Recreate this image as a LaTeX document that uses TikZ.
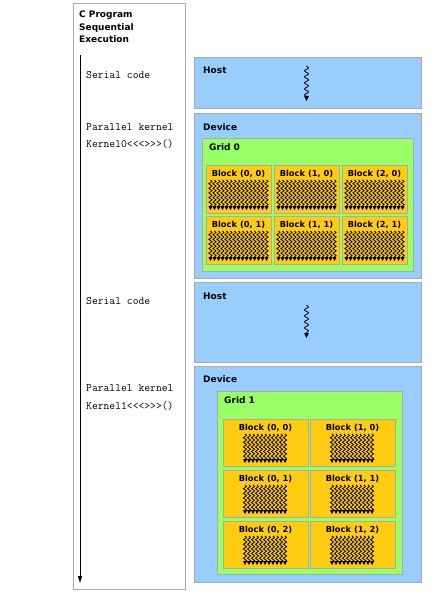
\documentclass[tikz,border=0pt]{standalone}
\usepackage{fontspec}
\newfontfamily\vsans{DejaVu Sans}
\usetikzlibrary{decorations.pathmorphing,arrows.meta}
\definecolor{hostblue}{RGB}{153,204,255}
\definecolor{gridgreen}{RGB}{153,255,102}
\definecolor{blockgold}{RGB}{255,204,17}
\definecolor{edgegray}{RGB}{170,170,170}
\tikzset{
  panel/.style={draw=edgegray,line width=0.8pt,fill=white,anchor=north west,inner sep=0pt},
  hostbox/.style={draw=edgegray,line width=0.8pt,fill=hostblue,anchor=north west,inner sep=0pt},
  gridbox/.style={draw=edgegray,line width=0.8pt,fill=gridgreen,anchor=north west,inner sep=0pt},
  blockbox/.style={draw=edgegray,line width=0.6pt,fill=blockgold,anchor=north west,inner sep=0pt},
  lbl/.style={font=\vsans\bfseries\fontsize{9}{10}\selectfont,anchor=west,inner sep=0pt},
  blbl/.style={font=\vsans\bfseries\fontsize{8.3}{9}\selectfont,anchor=center,inner sep=0pt},
  code/.style={font=\ttfamily\fontsize{11.3}{12}\selectfont,anchor=west,inner sep=0pt},
  thread/.style={line width=0.8pt,decorate,decoration={snake,amplitude=1.6pt,segment length=4.6pt,post length=3pt},-{Triangle[length=3.8pt,width=3.8pt]}},
}
\newcommand\threadrow[4]{% x0, y top, count-1, y bottom
  \foreach \i in {0,...,#3}{\draw[thread] (#1+\i*4,#2) -- (#1+\i*4,#4);}}
\begin{document}
\begin{tikzpicture}[x=1pt,y=-1pt]
\useasboundingbox (0,0) rectangle (432,596);
% left panel
\node[panel,minimum width=112.5pt,minimum height=586pt] (prog) at (72.5,3) {};
\node[lbl,align=left,anchor=north west,font=\vsans\bfseries\fontsize{9}{12.3}\selectfont] (title) at (79,11) {C Program\\Sequential\\Execution};
\coordinate (tstart) at (80,55);
\coordinate (tend) at (80,583);
\draw[line width=0.8pt,-{Triangle[length=7pt,width=4pt]}] (tstart) -- (tend);
\node[code] (s1) at (86,75) {Serial code};
\node[code] (p1) at (86,127) {Parallel kernel};
\node[code] (k0) at (86,144) {Kernel0<<<>>>()};
\node[code] (s2) at (86,301) {Serial code};
\node[code] (p2) at (86,388) {Parallel kernel};
\node[code] (k1) at (86,406) {Kernel1<<<>>>()};
% host 1
\node[hostbox,minimum width=227pt,minimum height=51pt] (host1) at (194,57) {};
\node[lbl] (host1l) at (203,70) {Host};
\coordinate (h1a) at (306.5,66);
\coordinate (h1b) at (306.5,101);
\draw[thread,decoration={snake,amplitude=2pt,segment length=6pt,post length=4pt},-{Triangle[length=5pt,width=4.5pt]}] (h1a) -- (h1b);
% device 1
\node[hostbox,minimum width=227pt,minimum height=165pt] (dev1) at (194,113) {};
\node[lbl] (dev1l) at (203,127) {Device};
\node[gridbox,minimum width=211pt,minimum height=133pt] (grid0) at (202,138) {};
\node[lbl] (grid0l) at (209,147) {Grid 0};
\foreach \c/\bx in {0/206,1/274,2/342}{
  \foreach \r/\by in {0/165,1/216}{
    \node[blockbox,minimum width=65pt,minimum height=48pt] (b0\c\r) at (\bx,\by) {};
    \node[blbl] (b0\c\r l) at (\bx+32.5,\by+8.5) {Block (\c, \r)};
    \threadrow{\bx+4.5}{\by+15}{14}{\by+45}
  }
}
% host 2
\node[hostbox,minimum width=227pt,minimum height=80pt] (host2) at (194,282) {};
\node[lbl] (host2l) at (203,296) {Host};
\coordinate (h2a) at (306.5,305);
\coordinate (h2b) at (306.5,338);
\draw[thread,decoration={snake,amplitude=2pt,segment length=6pt,post length=4pt},-{Triangle[length=5pt,width=4.5pt]}] (h2a) -- (h2b);
% device 2
\node[hostbox,minimum width=227pt,minimum height=216pt] (dev2) at (194,366) {};
\node[lbl] (dev2l) at (203,379) {Device};
\node[gridbox,minimum width=185pt,minimum height=183pt] (grid1) at (217,391) {};
\node[lbl] (grid1l) at (224,400) {Grid 1};
\foreach \c/\bx in {0/223,1/310}{
  \foreach \r/\by in {0/419,1/470,2/521}{
    \node[blockbox,minimum width=85pt,minimum height=47pt] (b1\c\r) at (\bx,\by) {};
    \node[blbl] (b1\c\r l) at (\bx+42.5,\by+8.5) {Block (\c, \r)};
    \threadrow{\bx+22}{\by+15}{10}{\by+44}
  }
}
\end{tikzpicture}
\end{document}
